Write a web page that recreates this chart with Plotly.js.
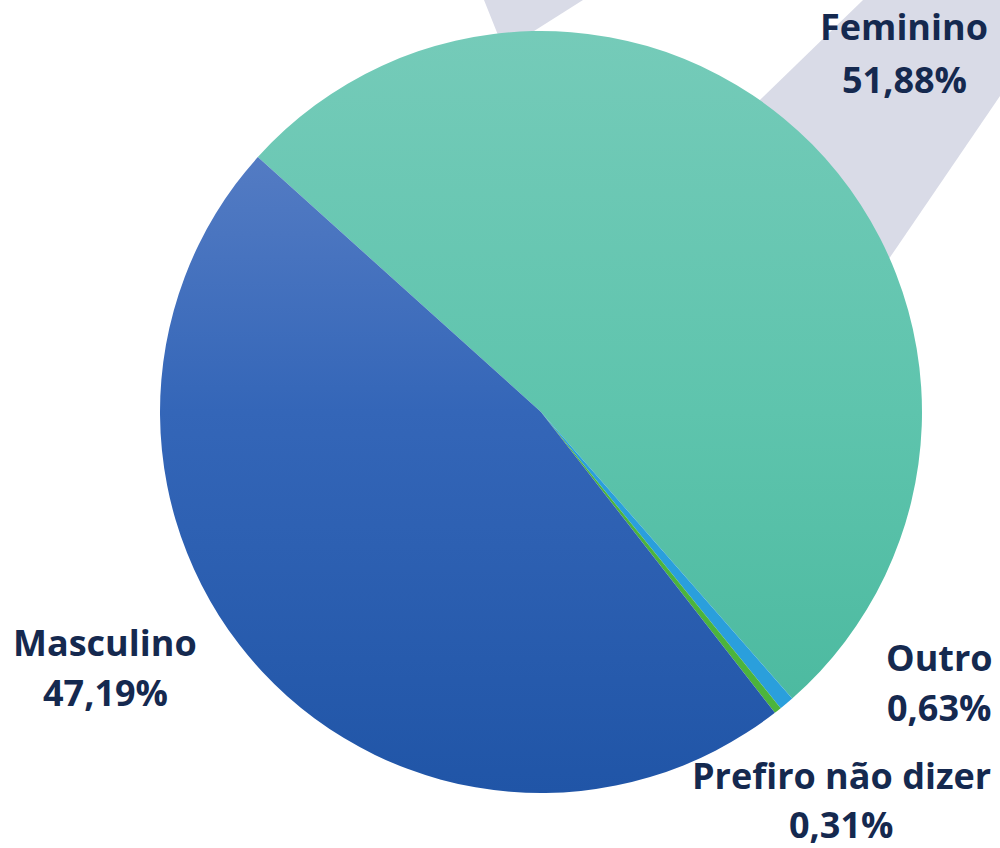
<!DOCTYPE html>
<html>
<head>
<meta charset="utf-8">
<script src="https://cdn.plot.ly/plotly-3.0.1.min.js"></script>
<style>
  html, body { margin: 0; padding: 0; background: #ffffff; }
  #chart { width: 1000px; height: 848px; }
</style>
</head>
<body>
<div id="chart"></div>
<script>
// ---- data ----
const categories = ["Feminino", "Outro", "Prefiro não dizer", "Masculino"];
const shares = [51.88, 0.63, 0.31, 47.19];

// ---- styling ----
const sliceColors = ["#5ec4ad", "#2a9fdc", "#4cb43c", "#3366b8"];
const textColor = "#15294f";
const W = 1000, H = 848;
const px = x => x / W;
const py = y => 1 - y / H;

function fmt(v) { return v.toFixed(2).replace(".", ",") + "%"; }

// label placement (pixel centre x, baseline y for name and value lines)
const labelPos = [
  { x: 904, y1: 40,  y2: 93 },
  { x: 939, y1: 670, y2: 720 },
  { x: 841, y1: 788, y2: 837 },
  { x: 105, y1: 655, y2: 705 }
];

const fontSize = 36;
const annotations = [];
categories.forEach((c, i) => {
  const p = labelPos[i];
  [[c, p.y1], [fmt(shares[i]), p.y2]].forEach(([t, base]) => {
    annotations.push({
      xref: "paper", yref: "paper",
      x: px(p.x), y: py(base - 13),
      xanchor: "center", yanchor: "middle",
      text: "<b>" + t + "</b>",
      showarrow: false,
      font: { family: "Open Sans", size: fontSize, color: textColor }
    });
  });
});

function poly(pts) {
  return "M " + pts.map(p => px(p[0]) + "," + py(p[1])).join(" L ") + " Z";
}

const shapes = [
  { type: "path", xref: "paper", yref: "paper", layer: "below",
    path: poly([[863, 0], [1000, 0], [1000, 96], [880, 272], [698, 160]]),
    fillcolor: "#d9dbe7", line: { width: 0 } },
  { type: "path", xref: "paper", yref: "paper", layer: "below",
    path: poly([[484, 0], [583, 0], [504, 50]]),
    fillcolor: "#d9dbe7", line: { width: 0 } }
];

const pieTop = 31, pieBottom = 793;
const trace = {
  type: "pie",
  labels: categories,
  values: shares,
  sort: false,
  direction: "clockwise",
  rotation: -48,
  textinfo: "none",
  hoverinfo: "label+percent",
  marker: { colors: sliceColors, line: { width: 0 } },
  domain: { x: [px(160), px(922)], y: [py(pieBottom), py(pieTop)] },
  showlegend: false
};

const layout = {
  width: W, height: H,
  margin: { l: 0, r: 0, t: 0, b: 0 },
  paper_bgcolor: "#ffffff",
  plot_bgcolor: "#ffffff",
  showlegend: false,
  shapes: shapes,
  annotations: annotations
};

Plotly.newPlot("chart", [trace], layout, { displayModeBar: false, staticPlot: true }).then(gd => {
  // vertical gradients on the two large slices (style only)
  const svgNS = "http://www.w3.org/2000/svg";
  const svg = gd.querySelector("svg.main-svg");
  let defs = svg.querySelector("defs");
  if (!defs) { defs = document.createElementNS(svgNS, "defs"); svg.insertBefore(defs, svg.firstChild); }
  const grads = {
    0: [["0", "#75cbb9"], ["0.5", "#5ec4ad"], ["1", "#47b79c"]],
    3: [["0", "#6386c9"], ["0.5", "#3466b8"], ["1", "#2055a7"]]
  };
  const paths = gd.querySelectorAll(".slice path.surface");
  paths.forEach((p, i) => {
    if (!grads[i]) return;
    const g = document.createElementNS(svgNS, "linearGradient");
    g.setAttribute("id", "grad" + i);
    g.setAttribute("gradientUnits", "userSpaceOnUse");
    g.setAttribute("x1", "0"); g.setAttribute("x2", "0");
    g.setAttribute("y1", String(pieTop)); g.setAttribute("y2", String(pieBottom));
    grads[i].forEach(([o, c]) => {
      const s = document.createElementNS(svgNS, "stop");
      s.setAttribute("offset", o); s.setAttribute("stop-color", c);
      g.appendChild(s);
    });
    defs.appendChild(g);
    p.style.fill = "url(#grad" + i + ")";
  });
});
</script>
</body>
</html>
